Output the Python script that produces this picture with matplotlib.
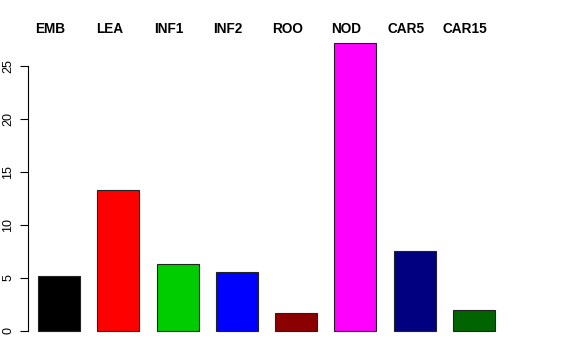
import matplotlib
matplotlib.use("Agg")
import matplotlib.pyplot as plt
import matplotlib.transforms as mtransforms

categories = ["EMB", "LEA", "INF1", "INF2", "ROO", "NOD", "CAR5", "CAR15"]
values = [5.2, 13.3, 6.35, 5.6, 1.7, 27.2, 7.55, 1.95]
colors = ["#000000", "#FF0000", "#00CD00", "#0000FF", "#8B0000", "#FF00FF", "#000080", "#006400"]
yticks = [0, 5, 10, 15, 20, 25]

plt.rcParams['font.family'] = ['Liberation Sans', 'DejaVu Sans']

W, H = 576, 360
fig = plt.figure(figsize=(W / 100, H / 100), dpi=100)
# axes in pixel coordinates: x 28..548, y (from top) 20..340
ax = fig.add_axes([28 / W, (H - 340) / H, (548 - 28) / W, 320 / H])

unit = 59.3
x0 = 59.0
xs = list(range(len(categories)))
ax.bar(xs, values, width=42 / unit, color=colors, edgecolor="#222222", linewidth=0.8)

ax.set_xlim((28 - x0) / unit, (548 - x0) / unit)
ax.set_ylim((331 - 340) / 10.6, (331 - 20) / 10.6)

for s in ["top", "right", "bottom"]:
    ax.spines[s].set_visible(False)
ax.spines["left"].set_bounds(0, 25)
ax.spines["left"].set_linewidth(0.8)
ax.set_xticks([])
ax.set_yticks(yticks)
ax.set_yticklabels([str(t) for t in yticks], rotation=90, va="center", fontsize=9)
ax.tick_params(axis="y", direction="out", length=6, width=0.8, pad=4)

trans = mtransforms.blended_transform_factory(ax.transData, ax.transAxes)
for x, lab in zip(xs, categories):
    ax.text(x - 0.15, (340 - 29) / 320, lab, transform=trans, ha="center", va="center",
            fontsize=9.8, fontweight="bold")

fig.savefig("out.png", dpi=100)
